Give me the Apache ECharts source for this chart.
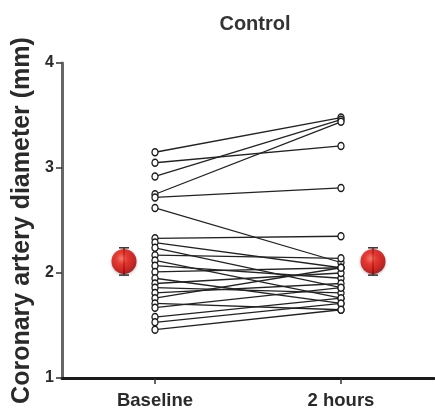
<!DOCTYPE html>
<html>
<head>
<meta charset="utf-8">
<script src="https://cdn.jsdelivr.net/npm/echarts@6/dist/echarts.min.js"></script>
<style>html,body{margin:0;padding:0;background:#fff;}#c{width:435px;height:419px;}</style>
</head>
<body>
<div id="c"></div>
<script>
const categories = ['Baseline', '2 hours'];
const yTicks = [1, 2, 3, 4];
const baseline  = [3.15, 3.05, 2.92, 2.75, 2.72, 2.62, 2.33, 2.29, 2.24, 2.17, 2.12, 2.07, 2.01, 1.95, 1.90, 1.86, 1.81, 1.76, 1.71, 1.67, 1.58, 1.53, 1.46];
const twoHours  = [3.48, 3.21, 3.46, 3.44, 2.81, 2.10, 2.35, 2.05, 1.86, 2.14, 1.76, 1.95, 2.05, 1.71, 2.00, 1.81, 1.90, 2.05, 1.65, 1.86, 1.76, 1.71, 1.65];
const means = [2.11, 2.11];
const sems  = [0.13, 0.13];

const chart = echarts.init(document.getElementById('c'), null, {renderer: 'canvas'});
const font = '"Liberation Sans", Arial, sans-serif';
const meanOffsets = [-31, 32];

const subjectSeries = baseline.map((b, i) => ({
  type: 'line',
  data: [b, twoHours[i]],
  symbol: 'circle',
  symbolSize: [6, 7],
  lineStyle: {color: '#222', width: 1.3},
  itemStyle: {color: '#fff', borderColor: '#1a1a1a', borderWidth: 1.4},
  silent: true,
  animation: false,
  z: 2
}));

const errSeries = {
  type: 'custom',
  data: means.map((m, i) => [i, m - sems[i], m + sems[i]]),
  renderItem: function (params, api) {
    const i = api.value(0);
    const lo = api.coord([i, api.value(1)]);
    const hi = api.coord([i, api.value(2)]);
    const x = lo[0] + meanOffsets[i];
    const cw = 5;
    return {
      type: 'group',
      children: [
        {type: 'line', shape: {x1: x, y1: lo[1], x2: x, y2: hi[1]}, style: {stroke: '#333', lineWidth: 1.5}},
        {type: 'line', shape: {x1: x - cw, y1: lo[1], x2: x + cw, y2: lo[1]}, style: {stroke: '#333', lineWidth: 1.5}},
        {type: 'line', shape: {x1: x - cw, y1: hi[1], x2: x + cw, y2: hi[1]}, style: {stroke: '#333', lineWidth: 1.5}}
      ]
    };
  },
  animation: false,
  z: 3
};

const meanSeries = means.map((m, i) => ({
  type: 'scatter',
  data: [[i, m]],
  symbol: 'circle',
  symbolSize: 25,
  symbolOffset: [meanOffsets[i], 0],
  itemStyle: {
    color: {
      type: 'radial', x: 0.4, y: 0.38, r: 0.65,
      colorStops: [
        {offset: 0, color: '#ff6a5a'},
        {offset: 0.35, color: '#ee1a10'},
        {offset: 0.8, color: '#c80000'},
        {offset: 1, color: '#900000'}
      ]
    },
    shadowColor: 'rgba(0,0,0,0.35)',
    shadowBlur: 3,
    shadowOffsetY: 1
  },
  animation: false,
  z: 4
}));

chart.setOption({
  backgroundColor: '#fff',
  title: {
    text: 'Control',
    left: 250, top: 9,
    textAlign: 'center',
    textStyle: {fontFamily: font, fontWeight: 'bold', fontSize: 20, color: '#333'}
  },
  grid: {left: 62, right: 1, top: 63, bottom: 41, containLabel: false, outerBoundsMode: 'none'},
  xAxis: {
    type: 'category',
    data: categories,
    boundaryGap: true,
    axisLine: {show: true, lineStyle: {color: '#1a1a1a', width: 3}},
    axisTick: {show: true, alignWithLabel: true, length: 6, lineStyle: {color: '#333', width: 1.5}},
    axisLabel: {fontFamily: font, fontWeight: 'bold', fontSize: 18.5, color: '#2a2a2a', margin: 13},
    splitLine: {show: false}
  },
  yAxis: {
    type: 'value',
    min: yTicks[0], max: yTicks[yTicks.length - 1], interval: 1,
    name: 'Coronary artery diameter (mm)',
    nameLocation: 'middle',
    nameGap: 26,
    nameRotate: 90,
    nameTextStyle: {fontFamily: font, fontWeight: 'bold', fontSize: 25, color: '#2a2a2a'},
    axisLine: {show: true, lineStyle: {color: '#666', width: 3}},
    axisTick: {show: true, length: 6, lineStyle: {color: '#333', width: 1.5}},
    axisLabel: {fontFamily: font, fontWeight: 'bold', fontSize: 16, color: '#2a2a2a', margin: 8},
    splitLine: {show: false}
  },
  series: [...subjectSeries, errSeries, ...meanSeries]
});
</script>
</body>
</html>
